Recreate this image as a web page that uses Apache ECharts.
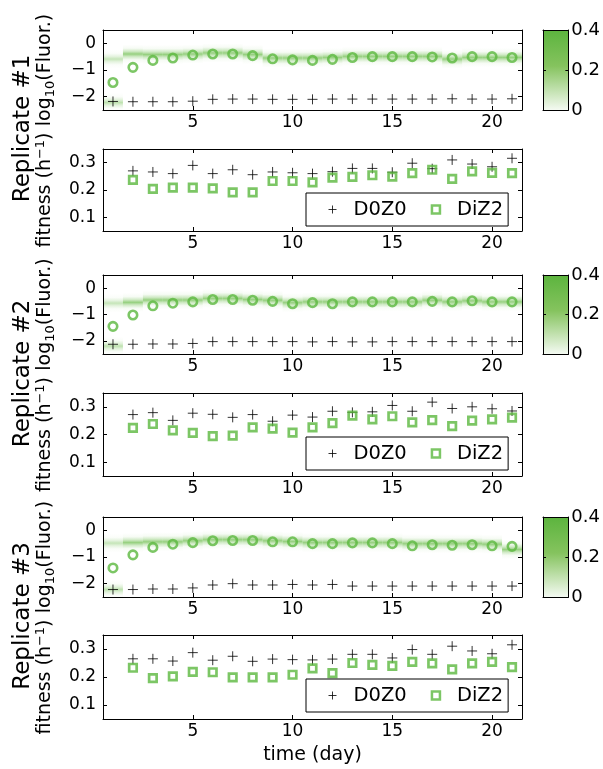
<!DOCTYPE html>
<html><head><meta charset="utf-8">
<script src="https://cdn.jsdelivr.net/npm/echarts@6/dist/echarts.min.js"></script>
<style>html,body{margin:0;padding:0;background:#fff}#c{width:603px;height:769px}</style>
</head><body><div id="c"></div>
<script>
// ---------- data ----------
const days = [1,2,3,4,5,6,7,8,9,10,11,12,13,14,15,16,17,18,19,20,21];
const fitDays = [2,3,4,5,6,7,8,9,10,11,12,13,14,15,16,17,18,19,20,21];
const xTicks = [5,10,15,20];
const fluorTicks = [-2,-1,0];
const fitTicks = [0.1,0.2,0.3];
const cbTicks = [0,0.2,0.4];
const fluorRange = [-2.5,0.5];
const fitRange = [0.05,0.35];
const dayRange = [0.5,21.5];
const cbRange = [0,0.4];
const repNames = ['Replicate #1','Replicate #2','Replicate #3'];
const seriesNames = ['D0Z0','DiZ2'];

const rep1FluorDiZ2 = [-1.47,-0.90,-0.64,-0.55,-0.44,-0.40,-0.40,-0.46,-0.58,-0.62,-0.64,-0.60,-0.53,-0.50,-0.50,-0.50,-0.51,-0.55,-0.50,-0.50,-0.53];
const rep1FluorD0Z0 = [-2.18,-2.19,-2.19,-2.19,-2.17,-2.10,-2.09,-2.09,-2.10,-2.10,-2.10,-2.09,-2.09,-2.09,-2.09,-2.09,-2.09,-2.08,-2.09,-2.09,-2.08];
const rep1Band      = [-0.59,-0.40,-0.42,-0.42,-0.40,-0.36,-0.36,-0.42,-0.55,-0.55,-0.55,-0.53,-0.49,-0.49,-0.49,-0.49,-0.49,-0.59,-0.53,-0.53,-0.53];

const rep2FluorDiZ2 = [-1.45,-1.02,-0.67,-0.57,-0.52,-0.43,-0.43,-0.46,-0.50,-0.59,-0.55,-0.59,-0.52,-0.52,-0.52,-0.52,-0.50,-0.52,-0.48,-0.52,-0.52];
const rep2FluorD0Z0 = [-2.13,-2.13,-2.12,-2.12,-2.10,-2.03,-2.03,-2.03,-2.03,-2.03,-2.04,-2.03,-2.04,-2.04,-2.03,-2.03,-2.03,-2.03,-2.03,-2.03,-2.03];
const rep2Band      = [-0.57,-0.54,-0.45,-0.45,-0.45,-0.39,-0.39,-0.43,-0.46,-0.55,-0.52,-0.52,-0.52,-0.52,-0.52,-0.52,-0.46,-0.52,-0.48,-0.52,-0.52];

const rep3FluorDiZ2 = [-1.41,-0.92,-0.64,-0.52,-0.46,-0.39,-0.38,-0.38,-0.43,-0.43,-0.50,-0.50,-0.47,-0.47,-0.50,-0.58,-0.54,-0.56,-0.54,-0.58,-0.60];
const rep3FluorD0Z0 = [-2.22,-2.22,-2.20,-2.20,-2.16,-2.05,-2.00,-2.05,-2.05,-2.03,-2.05,-2.03,-2.09,-2.09,-2.09,-2.09,-2.09,-2.09,-2.09,-2.09,-2.09];
const rep3Band      = [-0.48,-0.46,-0.43,-0.43,-0.39,-0.35,-0.35,-0.35,-0.39,-0.42,-0.46,-0.46,-0.46,-0.46,-0.46,-0.50,-0.50,-0.50,-0.50,-0.52,-0.72];
const bandLow = [-2.22,-2.20,-2.22];

const rep1FitD0Z0 = [0.270,0.266,0.260,0.290,0.260,0.274,0.256,0.266,0.263,0.260,0.267,0.279,0.279,0.265,0.298,0.278,0.310,0.295,0.285,0.316];
const rep1FitDiZ2 = [0.237,0.204,0.209,0.209,0.206,0.191,0.191,0.233,0.233,0.228,0.245,0.248,0.254,0.249,0.262,0.274,0.241,0.268,0.263,0.262];
const rep2FitD0Z0 = [0.272,0.279,0.251,0.277,0.273,0.262,0.272,0.248,0.270,0.263,0.284,0.280,0.282,0.305,0.284,0.317,0.294,0.300,0.293,0.285];
const rep2FitDiZ2 = [0.224,0.238,0.215,0.206,0.194,0.196,0.226,0.221,0.207,0.226,0.241,0.268,0.255,0.266,0.244,0.252,0.230,0.250,0.255,0.261];
const rep3FitD0Z0 = [0.265,0.265,0.257,0.287,0.260,0.274,0.256,0.264,0.262,0.261,0.264,0.281,0.281,0.268,0.298,0.281,0.310,0.293,0.283,0.315];
const rep3FitDiZ2 = [0.233,0.196,0.202,0.218,0.217,0.199,0.199,0.199,0.208,0.231,0.214,0.250,0.243,0.240,0.254,0.249,0.227,0.249,0.254,0.235];

// ---------- style / layout ----------
const FONT = 'DejaVu Sans';
const GREEN = '#5bb83e';
const BAND_RGB = '110,190,78';
const CROSS = 'path://M0,5L10,5M5,0L5,10';
const L = 103, W = 419;
const fluorTop = [30, 275, 517], fluorH = [80, 79, 80];
const fitTop = [149, 393, 635], fitH = [82, 83, 84];
const CB_L = 543, CB_W = 26;

const reps = [
  {fD0: rep1FluorD0Z0, fDi: rep1FluorDiZ2, band: rep1Band, low: bandLow[0], tD0: rep1FitD0Z0, tDi: rep1FitDiZ2},
  {fD0: rep2FluorD0Z0, fDi: rep2FluorDiZ2, band: rep2Band, low: bandLow[1], tD0: rep2FitD0Z0, tDi: rep2FitDiZ2},
  {fD0: rep3FluorD0Z0, fDi: rep3FluorDiZ2, band: rep3Band, low: bandLow[2], tD0: rep3FitD0Z0, tDi: rep3FitDiZ2}
];

const grid = [], xAxis = [], yAxis = [], series = [], legend = [], graphic = [];
const fmt = v => (v < 0 ? '\u2212' : '') + Math.abs(v);
const black = {color:'#000'};

function boxAxes(gi, xr, yr, xT, yT, o) {
  o = o || {};
  const xi = xAxis.length, yi = yAxis.length;
  const lineX = {show:true, onZero:false, lineStyle:{color:'#000', width:1}};
  const tickLen = o.tickLen || 4;
  const xb = {gridIndex:gi, type:'value', min:xr[0], max:xr[1], position:'bottom', z:10,
    axisLine:lineX, splitLine:{show:false},
    axisTick:{show:!!xT, inside:true, length:tickLen, customValues:xT, lineStyle:black},
    axisLabel:{show:!!(xT && o.xLabels), customValues:xT, color:'#000', fontSize:17, fontFamily:FONT, margin:4}};
  if (o.xName) {
    Object.assign(xb, {name:o.xName, nameLocation:'middle', nameGap:27,
      nameTextStyle:{color:'#000', fontSize:19, fontFamily:FONT}});
  }
  xAxis.push(xb);
  xAxis.push({gridIndex:gi, type:'value', min:xr[0], max:xr[1], position:'top', z:10,
    axisLine:lineX, splitLine:{show:false},
    axisTick:{show:!!xT, inside:true, length:tickLen, customValues:xT, lineStyle:black},
    axisLabel:{show:false}});
  const yl = {gridIndex:gi, type:'value', min:yr[0], max:yr[1], position:'left', z:10,
    axisLine:lineX, splitLine:{show:false},
    axisTick:{show:true, inside:true, length:tickLen, customValues:yT, lineStyle:black},
    axisLabel:{show:!!o.leftLabels, customValues:yT, color:'#000', fontSize:17, fontFamily:FONT, margin:7, formatter:fmt}};
  if (o.yName) {
    Object.assign(yl, {name:o.yName, nameLocation:'middle', nameGap:46, nameRotate:90,
      nameTextStyle:{color:'#000', fontSize:19, fontFamily:FONT, rich:{
        m:{fontSize:19, fontFamily:FONT, color:'#000', lineHeight:23},
        s:{fontSize:13, fontFamily:FONT, color:'#000', lineHeight:13, verticalAlign:'bottom'},
        p:{fontSize:13, fontFamily:FONT, color:'#000', lineHeight:13, verticalAlign:'top'}}}});
  }
  yAxis.push(yl);
  yAxis.push({gridIndex:gi, type:'value', min:yr[0], max:yr[1], position:'right', z:10,
    axisLine:lineX, splitLine:{show:false},
    axisTick:{show:true, inside:true, length:tickLen, customValues:yT, lineStyle:black},
    axisLabel:{show:!!o.rightLabels, customValues:yT, color:'#000', fontSize:18, fontFamily:FONT, margin:3, formatter:fmt}});
  return [xi, yi];
}

function bandRender(params, api) {
  const d = api.value(0), c = api.value(1), w = api.value(2);
  const p1 = api.coord([d - 0.5, c + 0.36]);
  const p2 = api.coord([d + 0.5, c - 0.36]);
  const col = a => 'rgba(' + BAND_RGB + ',' + a + ')';
  return {type:'rect', shape:{x:p1[0], y:p1[1], width:p2[0]-p1[0], height:p2[1]-p1[1]},
    style:{fill:new echarts.graphic.LinearGradient(0,0,0,1,[
      {offset:0, color:col(0)}, {offset:0.2, color:col(w*0.08)}, {offset:0.36, color:col(w*0.45)},
      {offset:0.5, color:col(w)}, {offset:0.64, color:col(w*0.45)},
      {offset:0.8, color:col(w*0.08)}, {offset:1, color:col(0)}])}};
}
function cbRender(params, api) {
  const a = api.coord([api.value(0), api.value(3)]);
  const b = api.coord([api.value(2), api.value(1)]);
  return {type:'rect', shape:{x:a[0], y:a[1], width:b[0]-a[0], height:b[1]-a[1]},
    style:{fill:new echarts.graphic.LinearGradient(0,0,0,1,[
      {offset:0, color:'#5cb43e'}, {offset:0.45, color:'#85c35e'}, {offset:1, color:'#f4faf2'}])}};
}

const crossStyle = {color:'transparent', borderColor:'#000', borderWidth:1};
const circStyle = {color:'transparent', borderColor:GREEN, borderWidth:2.6};
const sqStyle = {color:'transparent', borderColor:GREEN, borderWidth:2.7};

reps.forEach((r, k) => {
  // fluorescence panel
  let gi = grid.length;
  grid.push({left:L, top:fluorTop[k], width:W, height:fluorH[k], show:false});
  let [xi, yi] = boxAxes(gi, dayRange, fluorRange, xTicks, fluorTicks,
    {xLabels:true, leftLabels:true, yName:'{m|log}{s|10}{m|(Fluor.)}'});
  series.push({type:'custom', xAxisIndex:xi, yAxisIndex:yi, silent:true, z:1, renderItem:bandRender,
    data: days.map((d,i) => [d, r.band[i], i === 0 ? 0.4 : 0.72]).concat([[days[0], r.low, 0.45]])});
  series.push({type:'scatter', name:seriesNames[0], xAxisIndex:xi, yAxisIndex:yi, silent:true, z:3,
    symbol:CROSS, symbolSize:10, itemStyle:crossStyle, data: days.map((d,i) => [d, r.fD0[i]])});
  series.push({type:'scatter', name:seriesNames[1], xAxisIndex:xi, yAxisIndex:yi, silent:true, z:3,
    symbol:'circle', symbolSize:8.5, itemStyle:circStyle, data: days.map((d,i) => [d, r.fDi[i]])});

  // colorbar
  gi = grid.length;
  grid.push({left:CB_L, top:fluorTop[k], width:CB_W, height:fluorH[k], show:false});
  [xi, yi] = boxAxes(gi, [0,1], cbRange, null, cbTicks, {rightLabels:true, tickLen:3});
  series.push({type:'custom', xAxisIndex:xi, yAxisIndex:yi, silent:true, z:1, renderItem:cbRender,
    data:[[0, cbRange[0], 1, cbRange[1]]]});

  // fitness panel
  gi = grid.length;
  grid.push({left:L, top:fitTop[k], width:W, height:fitH[k], show:false});
  [xi, yi] = boxAxes(gi, dayRange, fitRange, xTicks, fitTicks,
    {xLabels:true, leftLabels:true, yName:'{m|fitness (h}{p|\u22121}{m|)}', xName: k === 2 ? 'time (day)' : null});
  series.push({type:'scatter', name:seriesNames[0], xAxisIndex:xi, yAxisIndex:yi, silent:true, z:3,
    symbol:CROSS, symbolSize:10, itemStyle:crossStyle, data: fitDays.map((d,i) => [d, r.tD0[i]])});
  series.push({type:'scatter', name:seriesNames[1], xAxisIndex:xi, yAxisIndex:yi, silent:true, z:3,
    symbol:'rect', symbolSize:7.5, itemStyle:sqStyle, data: fitDays.map((d,i) => [d, r.tDi[i]])});

  legend.push({left:306, top:fitTop[k] + 44, orient:'horizontal', selectedMode:false, z:20,
    backgroundColor:'#fff', borderColor:'#000', borderWidth:1, borderRadius:0,
    padding:[5,5,5,22], itemGap:24, itemWidth:8, itemHeight:8,
    textStyle:{color:'#000', fontSize:19.5, fontFamily:FONT, lineHeight:23, padding:[0,0,0,12]},
    data:[{name:seriesNames[0], icon:CROSS, itemStyle:crossStyle},
          {name:seriesNames[1], icon:'rect', itemStyle:{color:'transparent', borderColor:GREEN, borderWidth:2.5}}]});

  graphic.push({type:'text', x:23, y:(fluorTop[k] + fitTop[k] + fitH[k]) / 2 - 2, rotation:Math.PI/2,
    style:{text:repNames[k], fontSize:23, fontFamily:FONT, fill:'#000', align:'center', verticalAlign:'middle',
      textAlign:'center', textVerticalAlign:'middle'}});
});

const chart = echarts.init(document.getElementById('c'), null, {renderer:'canvas'});
chart.setOption({animation:false, backgroundColor:'#fff', grid, xAxis, yAxis, series, legend, graphic});
</script>
</body></html>
